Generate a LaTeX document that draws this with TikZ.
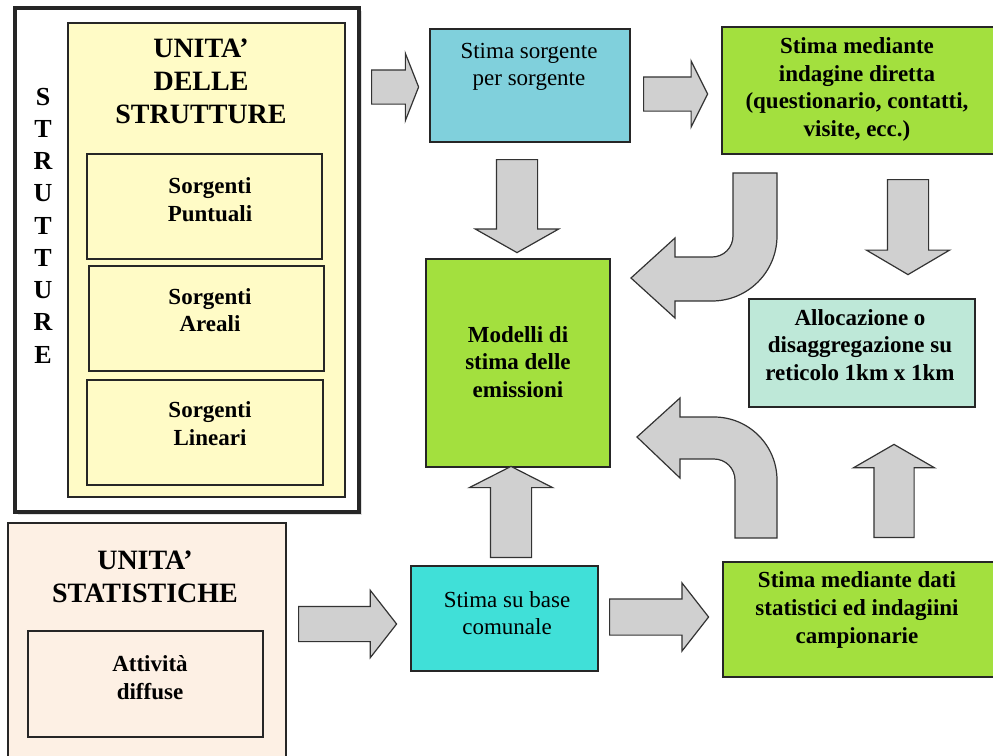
\documentclass[tikz,border=0pt]{standalone}
\usepackage{fontspec}
\setmainfont{Liberation Serif}
\usepackage{tikz}
\usetikzlibrary{shapes.arrows,shadows}
\definecolor{greenbox}{RGB}{163,224,62}
\definecolor{bluebox}{RGB}{128,208,220}
\definecolor{turqbox}{RGB}{64,224,216}
\definecolor{mintbox}{RGB}{190,232,216}
\definecolor{yellowbox}{RGB}{255,251,198}
\definecolor{peachbox}{RGB}{253,240,228}
\definecolor{arrowgray}{RGB}{208,208,208}
\tikzset{font=\fontsize{11.5}{13.8}\selectfont}
\tikzset{
  box/.style={draw=black!85, line width=0.7pt, inner sep=0pt},
  lbl/.style={align=center, font=\bfseries\fontsize{11.5}{13.8}\selectfont},
  plain/.style={align=center, font=\fontsize{11.5}{13.8}\selectfont},
  title/.style={align=center, font=\bfseries\fontsize{14}{16.6}\selectfont},
  blk/.style={single arrow, draw=black!80, fill=arrowgray, line width=0.6pt,
    single arrow head indent=0pt, anchor=tail},
  curvearrow/.style={draw=black!80, fill=arrowgray, line width=0.6pt}
}

\begin{document}
\begin{tikzpicture}[x=0.5pt, y=-0.5pt]
  \useasboundingbox (0,0) rectangle (993,756);
  \clip (0,0) rectangle (993,756);
  \fill[white] (0,0) rectangle (993,756);

  % strutture
  \node[box, line width=1.8pt, fill=white, minimum width=172pt, minimum height=252pt,
    drop shadow={opacity=0.25, shadow xshift=1.5pt, shadow yshift=-1.5pt}] (frame) at (187,260) {};
  \node[box, fill=yellowbox, minimum width=138.5pt, minimum height=237pt] (ystr) at (206.5,260) {};
  \node[title] (tunita) at (201,81.5) {UNITA'\\DELLE\\STRUTTURE};
  \foreach \l [count=\i] in {S,T,R,U,T,T,U,R,E}{
    \node[font=\bfseries\fontsize{13}{15}\selectfont] (v\i) at (43,{97+32.2*(\i-1)}) {\l};
  };

  \node[box, fill=yellowbox, minimum width=117.5pt, minimum height=52.5pt] (punt) at (204.5,206.5) {};
  \node[lbl] (tpunt) at (210,199.5) {Sorgenti\\Puntuali};
  \node[box, fill=yellowbox, minimum width=117.5pt, minimum height=52.5pt] (areal) at (206.5,318.5) {};
  \node[lbl] (tareal) at (210,310) {Sorgenti\\Areali};
  \node[box, fill=yellowbox, minimum width=118pt, minimum height=52.5pt] (linea) at (205,432.5) {};
  \node[lbl] (tlinea) at (210,423.5) {Sorgenti\\Lineari};

  % unita statistiche
  \node[box, fill=peachbox, minimum width=139pt, minimum height=118.5pt] (stat) at (147,641.5) {};
  \node[title] (tstat) at (145,577) {UNITA'\\STATISTICHE};
  \node[box, fill=peachbox, minimum width=117.5pt, minimum height=53pt] (attiv) at (145.5,684) {};
  \node[lbl] (tattiv) at (150,677.5) {Attività\\diffuse};

  % stime
  \node[box, fill=bluebox, minimum width=100pt, minimum height=56.5pt] (sorg) at (530,85.5) {};
  \node[plain] (tsorg) at (529,67) {Stima sorgente\\per sorgente};
  \node[box, line width=1pt, fill=greenbox, minimum width=139pt, minimum height=63.5pt] (indag) at (861,90.5) {};
  \node[lbl] (tindag) at (857,89.5) {Stima mediante\\indagine diretta\\(questionario, contatti,\\visite, ecc.)};
  \node[box, fill=greenbox, minimum width=92pt, minimum height=104pt] (model) at (518,363) {};
  \node[lbl] (tmodel) at (518,362) {Modelli di\\stima delle\\emissioni};
  \node[box, fill=mintbox, minimum width=113pt, minimum height=54pt] (alloc) at (862,353) {};
  \node[lbl] (talloc) at (860,345) {Allocazione o\\disaggregazione su\\reticolo 1km x 1km};
  \node[box, fill=turqbox, minimum width=93.5pt, minimum height=52.5pt] (comun) at (504.5,618.5) {};
  \node[plain] (tcomun) at (507,613) {Stima su base\\comunale};
  \node[box, line width=1pt, fill=greenbox, minimum width=138.5pt, minimum height=57.5pt] (dati) at (861.5,619.5) {};
  \node[lbl] (tdati) at (857,610) {Stima mediante dati\\statistici ed indagiini\\campionarie};

  % frecce
  \node[blk, inner sep=8.25pt, minimum height=23.5pt, minimum width=33pt,
    single arrow head extend=8.25pt, single arrow tip angle=137] (a1) at (371,87) {};
  \node[blk, inner sep=8.25pt, minimum height=32pt, minimum width=32.5pt,
    single arrow head extend=8pt, single arrow tip angle=127] (a2) at (643,94) {};
  \node[blk, inner sep=8.5pt, minimum height=49pt, minimum width=33pt,
    single arrow head extend=8pt, single arrow tip angle=104] (a3) at (298,624) {};
  \node[blk, inner sep=8.75pt, minimum height=49.5pt, minimum width=33.5pt,
    single arrow head extend=8pt, single arrow tip angle=104] (a4) at (609,617) {};
  \node[blk, inner sep=10pt, shape border rotate=270, minimum height=46.5pt, minimum width=41pt,
    single arrow head extend=10.5pt, single arrow tip angle=121] (a5) at (517,159) {};
  \node[blk, inner sep=10pt, shape border rotate=90, minimum height=45.5pt, minimum width=41pt,
    single arrow head extend=10.5pt, single arrow tip angle=126] (a6) at (511,558) {};
  \node[blk, inner sep=10pt, shape border rotate=270, minimum height=47.5pt, minimum width=41pt,
    single arrow head extend=10.5pt, single arrow tip angle=119] (a7) at (908,179) {};
  \node[blk, inner sep=9.75pt, shape border rotate=90, minimum height=46.5pt, minimum width=40pt,
    single arrow head extend=10.25pt, single arrow tip angle=120] (a8) at (894,538) {};

  \draw[curvearrow] (733,173) -- (733,236) arc[start angle=0, end angle=90, radius=21]
    -- (675,257) -- (675,238) -- (631,278) -- (675,318) -- (675,301) -- (712,301)
    arc[start angle=90, end angle=0, radius=65] -- (777,173) -- cycle;
  \draw[curvearrow] (735,538) -- (735,480) arc[start angle=0, end angle=-90, radius=21]
    -- (680,459) -- (680,478) -- (637,437) -- (680,398) -- (680,417) -- (714,417)
    arc[start angle=-90, end angle=0, radius=63] -- (777,538) -- cycle;
\end{tikzpicture}
\end{document}
